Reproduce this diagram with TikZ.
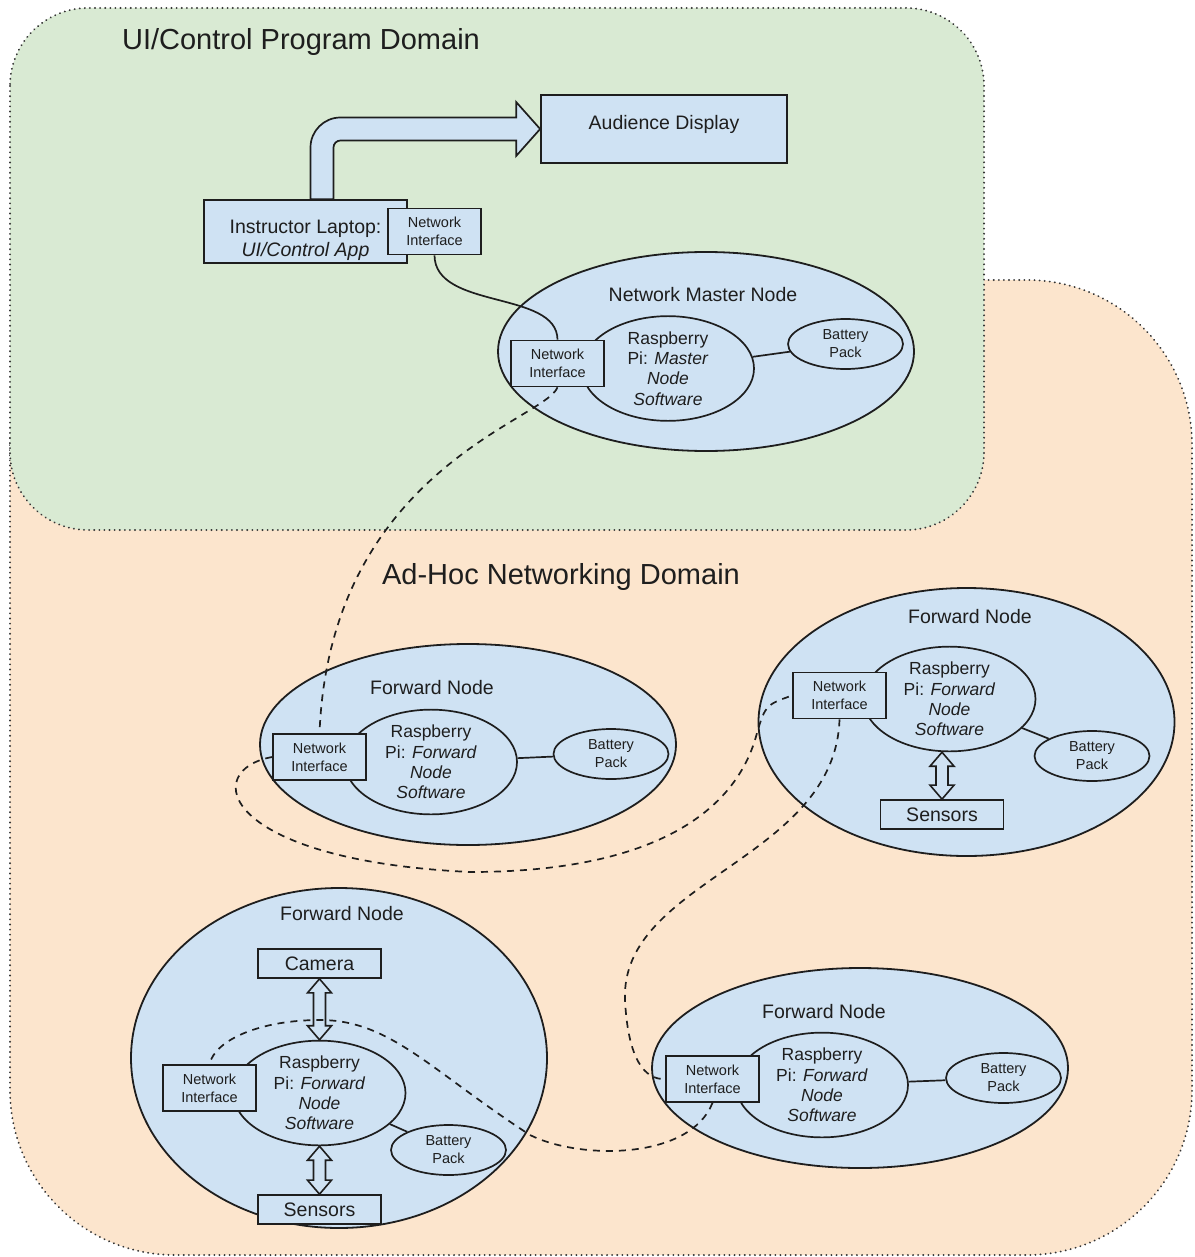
\documentclass[tikz,border=0pt]{standalone}
\usepackage{fontspec}
\setmainfont{Liberation Sans}
\usepackage{xcolor}
\usepackage{tikz}
\usetikzlibrary{shapes.geometric,calc}

\definecolor{uigreen}{HTML}{D9EAD3}
\definecolor{adhocorange}{HTML}{FCE5CD}
\definecolor{nodeblue}{HTML}{CFE2F3}
\definecolor{ink}{HTML}{1E1E1E}

% hollow two-way arrow between two vertically aligned nodes
\newcommand{\twoway}[2]{%
  \draw[ink, line width=1.6pt, fill=nodeblue, line join=miter] let \p1=(#1), \p2=(#2) in
    (\x1,\y1) -- (\x1+12pt,\y1-14pt) -- (\x1+6pt,\y1-14pt) -- (\x1+6pt,\y2+14pt) -- (\x1+12pt,\y2+14pt)
    -- (\x1,\y2) -- (\x1-12pt,\y2+14pt) -- (\x1-6pt,\y2+14pt) -- (\x1-6pt,\y1-14pt) -- (\x1-12pt,\y1-14pt) -- cycle;}

\begin{document}
\begin{tikzpicture}[x=1pt, y=-1pt,
  zone/.style={draw=ink!90, line width=2pt, dash pattern=on 0.1pt off 5pt, line cap=round},
  zonetitle/.style={font=\fontsize{29}{33}\selectfont, text=ink},
  caption/.style={font=\fontsize{19.5}{23}\selectfont, text=ink},
  box/.style={draw=ink, line width=1.7pt, fill=nodeblue, inner sep=0, font=\fontsize{19.5}{23}\selectfont, text=ink},
  netif/.style={box, minimum width=93, minimum height=46, align=center, font=\fontsize{14.5}{18}\selectfont},
  hull/.style={ellipse, draw=ink, line width=1.8pt, fill=nodeblue, minimum width=416, inner sep=0},
  pi/.style={ellipse, draw=ink, line width=1.7pt, fill=nodeblue, minimum width=172, minimum height=88, inner sep=0, align=center, font=\fontsize{17.5}{20.4}\selectfont, text=ink},
  battery/.style={ellipse, draw=ink, line width=1.7pt, fill=nodeblue, minimum width=115, minimum height=50, inner sep=0, align=center, font=\fontsize{14.5}{18}\selectfont, text=ink},
  wire/.style={draw=ink, line width=1.7pt},
  radio/.style={draw=ink, line width=1.7pt, dash pattern=on 7pt off 6pt}]

  \useasboundingbox (0,0) rectangle (1194,1257);

  % domains
  \filldraw[fill=adhocorange, zone, rounded corners=165pt] (10,280) rectangle (1192,1255);  % Ad-Hoc domain
  \filldraw[fill=uigreen, zone, rounded corners=78pt] (10,8) rectangle (984,530);  % UI domain
  \node[zonetitle] (UI-title) at (301,42) {UI/Control Program Domain};
  \node[zonetitle] (AdHoc-title) at (561,577) {Ad-Hoc Networking Domain};

  % control program side
  \node[box, minimum width=246, minimum height=68] (Display) at (664,129) {};
  \node[caption] (Display-text) at ([yshift=5]Display.center) {Audience Display};
  \node[box, minimum width=203, minimum height=63] (Laptop) at (305.5,231.5) {};
  \node[caption, align=center] (Laptop-text) at ([yshift=-9]Laptop.center) {Instructor Laptop:\\\textit{UI/Control App}};
  \node[netif] (Laptop-NI) at (434.5,231.5) {Network\\Interface};
  \draw[ink, line width=1.7pt, fill=nodeblue, line join=miter] let \p1=(Laptop.north), \p2=(Display.west) in
    (\x1+5pt,\y1) -- (\x1+5pt,\y2+11.5pt-30pt) arc[start angle=180, end angle=90, radius=30pt]
    -- (\x2-24pt,\y2+11.5pt) -- (\x2-24pt,\y2+27pt) -- (\x2,\y2) -- (\x2-24pt,\y2-27pt) -- (\x2-24pt,\y2-11.5pt)
    -- (\x1+35pt,\y2-11.5pt) arc[start angle=90, end angle=180, radius=7pt] -- (\x1+28pt,\y1) -- cycle;  % feed to display

  % network master node
  \node[hull, minimum height=199] (Master) at (706,351.5) {};
  \node[caption] (Master-label) at (703,295) {Network Master Node};
  \node[pi] (Master-Pi) at (668,368.5) {Raspberry\\Pi: \textit{Master}\\\textit{Node}\\\textit{Software}};
  \node[battery] (Master-Bat) at (845.5,344) {Battery\\Pack};
  \node[netif] (Master-NI) at (557.5,363.5) {Network\\Interface};
  \draw[wire] (Master-Pi) -- (Master-Bat);

  % forward node 1
  \node[hull, minimum height=201] (Fwd1) at (468,744.5) {};
  \node[caption] (Fwd1-label) at (432,688) {Forward Node};
  \node[pi] (Fwd1-Pi) at (431,762) {Raspberry\\Pi: \textit{Forward}\\\textit{Node}\\\textit{Software}};
  \node[battery] (Fwd1-Bat) at (611,754) {Battery\\Pack};
  \node[netif] (Fwd1-NI) at (319.5,757) {Network\\Interface};
  \draw[wire] (Fwd1-Pi) -- (Fwd1-Bat);

  % forward node 2
  \node[hull, minimum height=268] (Fwd2) at (966.5,722) {};
  \node[caption] (Fwd2-label) at (970,617) {Forward Node};
  \node[pi] (Fwd2-Pi) at (949.5,699) {Raspberry\\Pi: \textit{Forward}\\\textit{Node}\\\textit{Software}};
  \node[battery] (Fwd2-Bat) at (1092,756) {Battery\\Pack};
  \node[netif] (Fwd2-NI) at (839.5,695.5) {Network\\Interface};
  \node[box, minimum width=123, minimum height=29] (Fwd2-Sensors) at (942,814.5) {Sensors};
  \draw[wire] (Fwd2-Pi) -- (Fwd2-Bat);
  \twoway{Fwd2-Pi.south -| Fwd2-Sensors.north}{Fwd2-Sensors.north}

  % forward node 3
  \node[hull, minimum height=340] (Fwd3) at (339,1058) {};
  \node[caption] (Fwd3-label) at (342,914) {Forward Node};
  \node[box, minimum width=123, minimum height=29] (Fwd3-Camera) at (319.5,963.5) {Camera};
  \node[pi] (Fwd3-Pi) at (319.5,1093) {Raspberry\\Pi: \textit{Forward}\\\textit{Node}\\\textit{Software}};
  \node[battery] (Fwd3-Bat) at (448.5,1150) {Battery\\Pack};
  \node[netif] (Fwd3-NI) at (209.5,1088) {Network\\Interface};
  \node[box, minimum width=123, minimum height=29] (Fwd3-Sensors) at (319.5,1209.5) {Sensors};
  \draw[wire] (Fwd3-Pi) -- (Fwd3-Bat);
  \twoway{Fwd3-Camera.south}{Fwd3-Pi.north}
  \twoway{Fwd3-Pi.south}{Fwd3-Sensors.north}

  % forward node 4
  \node[hull, minimum height=200] (Fwd4) at (860,1068) {};
  \node[caption] (Fwd4-label) at (824,1012) {Forward Node};
  \node[pi] (Fwd4-Pi) at (822,1085) {Raspberry\\Pi: \textit{Forward}\\\textit{Node}\\\textit{Software}};
  \node[battery] (Fwd4-Bat) at (1003.5,1078) {Battery\\Pack};
  \node[netif] (Fwd4-NI) at (712.5,1079) {Network\\Interface};
  \draw[wire] (Fwd4-Pi) -- (Fwd4-Bat);

  % links
  \draw[wire] (Laptop-NI.south) .. controls (435,310) and (557,290) .. (Master-NI.north);  % wired link
  \draw[radio] (Master-NI.south) .. controls (545,420) and (330,470) .. (Fwd1-NI.north);  % radio hops
  \draw[radio] (Fwd1-NI.west) .. controls (200,770) and (220,860) .. (470,872)
    .. controls (640,872) and (730,820) .. (755,740) .. controls (765,705) .. (Fwd2-NI.west);
  \draw[radio] (Fwd2-NI.south) .. controls (835,860) and (620,880) .. (625,1000)
    .. controls (628,1060) and (645,1080) .. (Fwd4-NI.west);
  \draw[radio] (Fwd4-NI.south) .. controls (690,1160) and (580,1160) .. (530,1135)
    .. controls (430,1070) and (390,1020) .. (320,1020) .. controls (260,1020) and (215,1040) .. (Fwd3-NI.north);
\end{tikzpicture}
\end{document}
